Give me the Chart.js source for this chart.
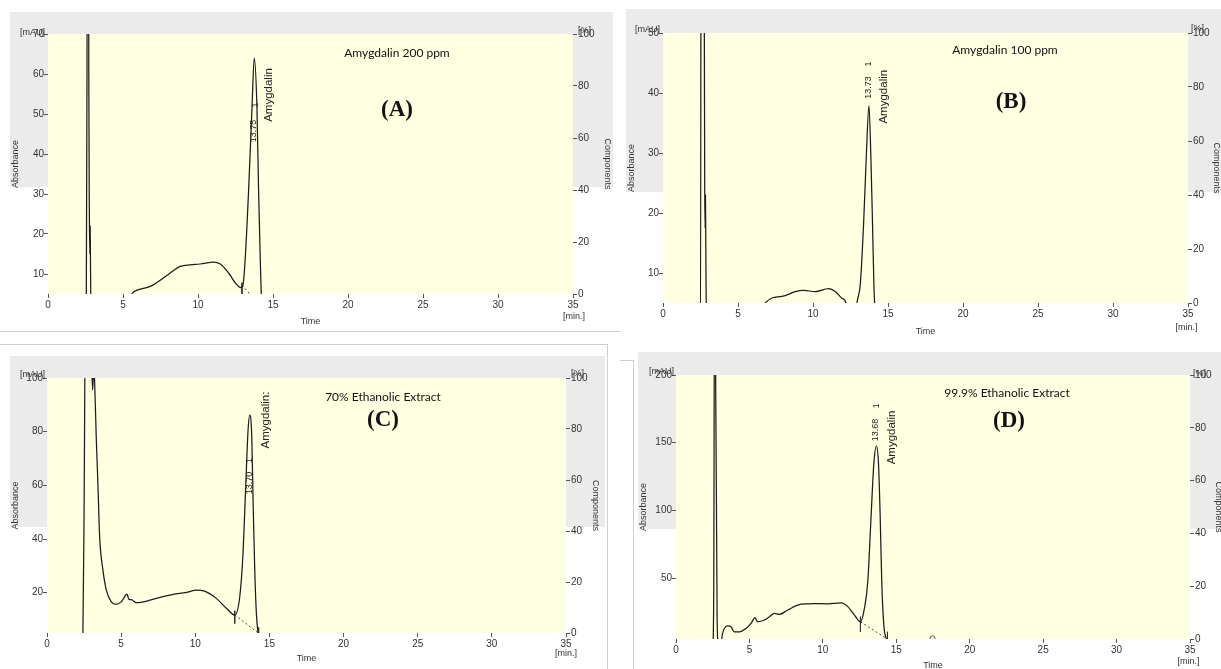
<!DOCTYPE html>
<html><head><meta charset="utf-8">
<script src="https://cdn.jsdelivr.net/npm/chart.js@4.4.1/dist/chart.umd.min.js"></script>
<style>
html,body{margin:0;padding:0;width:1221px;height:669px;overflow:hidden;background:#fff;position:relative}
.band{position:absolute;background:#ebebeb}
.rule{position:absolute;background:#cfcfcf}
canvas{position:absolute}
</style></head><body>
<div class="band" style="left:10px;top:12px;width:603px;height:175px"></div>
<div class="band" style="left:626px;top:9px;width:595px;height:183px"></div>
<div class="band" style="left:10px;top:356px;width:595px;height:171px"></div>
<div class="band" style="left:638px;top:352px;width:583px;height:177px"></div>
<div class="rule" style="left:0;top:331px;width:620px;height:1px"></div>
<div class="rule" style="left:0;top:344px;width:607px;height:1px"></div>
<div class="rule" style="left:607px;top:344px;width:1px;height:325px"></div>
<div class="rule" style="left:620px;top:360px;width:13px;height:1px"></div>
<div class="rule" style="left:633px;top:360px;width:1px;height:309px"></div>
<script>
// ---------- tick labels ----------
const timeTicks=[0,5,10,15,20,25,30,35];
const pctTicks=[0,20,40,60,80,100];
const absTicksA=[10,20,30,40,50,60,70];
const absTicksB=[10,20,30,40,50];
const absTicksC=[20,40,60,80,100];
const absTicksD=[50,100,150,200];
const absMax=[70,50,100,200];

// ---------- chromatogram traces (time [min], absorbance [mAU]) ----------
const timeA=[0,2.55,2.6,2.63,2.68,2.72,2.76,2.79,2.81,2.83,2.87,5.3,5.6,5.9,6.82,7.93,8.82,9.49,10.15,11.04,11.49,12.04,12.49,12.85,13.0,13.15,13.37,13.6,13.75,13.93,14.04,14.15,14.22,14.35,35];
const absA =[0,0,60,200,200,60,24,15,22,14,0,0,5,5.9,6.9,9.65,11.9,12.3,12.5,13.0,12.5,10.25,7.75,6.6,7.3,14,30.6,51.5,64,51.5,30.6,14,5,0,0];

const timeB=[0,2.5,2.55,2.6,2.7,2.78,2.81,2.83,2.87,2.95,6.6,6.82,7.93,8.82,9.38,10.15,11.04,11.49,11.93,12.2,12.4,12.75,12.93,13.15,13.37,13.55,13.73,13.86,13.97,14.06,14.11,14.3,35];
const absB =[0,0,100,100,100,24.7,17.5,23,8,0,0,5,6.1,6.9,7.1,6.9,7.4,6.9,5.8,5,0,0,5,8.05,18,29.2,37.9,29.2,18,8,5,0,0];

const timeC=[0,2.3,2.42,2.5,2.6,2.9,3.07,3.15,3.21,3.32,3.44,3.55,3.77,4.0,4.34,4.63,5.01,5.39,5.53,5.69,6.02,7.37,8.5,9.4,10.07,10.63,11.42,12.1,12.66,13.0,13.22,13.4,13.56,13.67,13.81,13.9,14.01,14.12,14.23,14.4,35];
const absC =[0,0,5,50,130,130,95.5,103,99,78,59.5,40.9,28.5,21,16.6,15.65,16.6,19.5,17.5,17.4,16.3,17.9,19.4,20.1,21,20.6,17.9,14.2,11.7,18.5,34.7,59.5,80.6,86.2,78,53.3,28.5,12.3,5,0,0];

const timeD=[0,2.5,2.57,2.62,2.66,2.8,2.9,3.05,3.15,3.29,3.52,3.75,3.97,4.32,4.77,5.11,5.38,5.56,6.02,6.36,6.7,7.04,7.61,8.52,9.42,10.33,11.24,11.7,12.15,12.56,12.83,13.06,13.29,13.47,13.65,13.79,13.9,14.01,14.15,14.31,14.45,35];
const absD =[0,0,40,260,260,20,0,0,8,12.8,14.7,14,10.3,10.3,12.8,16.5,20.7,17.7,19,21.4,24,23.2,26.4,30.7,31.1,31,31.6,28.9,22.7,17.7,27.7,47.5,97,134.3,147.5,134.3,97,47.5,15.3,5.4,0,0];

// ---------- integration baselines (dotted) and peak markers ----------
const baseTimeA=[12.93,14.3], baseAbsA=[7.2,1.5];
const baseTimeC=[12.66,14.25], baseAbsC=[11.7,5];
const baseTimeD=[12.56,14.38], baseAbsD=[17.7,5];
const markTimeA=[12.93,12.93], markAbsA=[7.8,4];
const markTimeC=[12.66,12.66], markAbsC=[13.3,8.5];
const markEndTimeC=[14.27,14.27], markEndAbsC=[7.2,4];
const markTimeD=[12.56,12.56], markAbsD=[21.5,10.3];
const markEndTimeD=[14.4,14.4], markEndAbsD=[10.3,4];
const smallPeakTimeD=[17.46], smallPeakAbsD=[5.5];

// ---------- annotation texts ----------
const titles=['Amygdalin 200 ppm','Amygdalin 100 ppm','70% Ethanolic Extract','99.9% Ethanolic Extract'];
const letters=['(A)','(B)','(C)','(D)'];
const peakRT=[13.75,13.73,13.70,13.68];
const peakRTLabel=['13.75','13.73','13.70','13.68'];
const peakNo=['1','1','1','1'];
const peakName=['Amygdalin','Amygdalin','Amygdalin:','Amygdalin'];

// ---------- layout (page px) ----------
const layout=[
 {box:[8,12,609,320],  plot:[48,34,573,294],  absPad:2.6, compPad:4.6, timePad:4.6, title:[397,53],  letter:[397,110], mau:[20,33],  pct:[578,31],  min:[574,317],  rt:[-1,131],  one:[1,105],  name:[14.5,95]},
 {box:[624,9,598,331], plot:[663,33,1188,303], absPad:2.1, compPad:0.6, timePad:2.6, title:[1005,50], letter:[1011,102],mau:[635,30], pct:[1191,29], min:[1186.5,328],rt:[0,87.5],  one:[0,64],   name:[15,96.7]},
 {box:[8,346,597,323], plot:[47,378,566,633],  absPad:2.4, compPad:4.6, timePad:4.6, title:[383,397], letter:[383,420], mau:[20,375], pct:[571,374], min:[566,654],  rt:[-1,483],  one:[-1,460.5],name:[16,420]},
 {box:[636,350,588,322],plot:[676,375,1190,639],absPad:2.4,compPad:0.6, timePad:0.6, title:[1007,393],letter:[1009,421],mau:[649,372], pct:[1193,374], min:[1188.6,662],rt:[-1.5,430],one:[0,405.7],name:[15,437.5]}
];

const TICKFONT={family:'"Liberation Sans", Arial, sans-serif', size:10};
const SMALLFONT={family:'"Liberation Sans", Arial, sans-serif', size:9};
const TXT='#333';
const LINE='#1c1c1c';

function pts(t,v){return t.map((x,i)=>({x:x,y:v[i]}));}

const panels=[
 {trace:pts(timeA,absA), ticks:absTicksA, extra:[
   {d:pts(baseTimeA,baseAbsA),dash:true},{d:pts(markTimeA,markAbsA)}]},
 {trace:pts(timeB,absB), ticks:absTicksB, extra:[]},
 {trace:pts(timeC,absC), ticks:absTicksC, extra:[
   {d:pts(baseTimeC,baseAbsC),dash:true},{d:pts(markTimeC,markAbsC)},{d:pts(markEndTimeC,markEndAbsC)}]},
 {trace:pts(timeD,absD), ticks:absTicksD, extra:[
   {d:pts(baseTimeD,baseAbsD),dash:true},{d:pts(markTimeD,markAbsD)},{d:pts(markEndTimeD,markEndAbsD)},
   {d:pts(smallPeakTimeD,smallPeakAbsD),circle:true}]}
];

panels.forEach((p,i)=>{
  const L=layout[i];
  const [bx,by,bw,bh]=L.box;
  const [pl,pt,pr,pb]=L.plot;
  const leftW=pl-bx, rightW=bx+bw-pr, topPad=pt-by, bottomH=by+bh-pb;
  const cv=document.createElement('canvas');
  cv.width=bw; cv.height=bh;
  cv.style.left=bx+'px'; cv.style.top=by+'px';
  cv.style.width=bw+'px'; cv.style.height=bh+'px';
  document.body.appendChild(cv);

  const datasets=[{data:p.trace,borderColor:LINE,borderWidth:1.25,pointRadius:0,cubicInterpolationMode:'monotone',yAxisID:'y'}];
  p.extra.forEach(e=>{
    if(e.circle){
      datasets.push({data:e.d,showLine:false,pointRadius:2.5,pointStyle:'circle',pointBackgroundColor:'rgba(0,0,0,0)',pointBorderColor:'#555',pointBorderWidth:1,yAxisID:'y'});
    } else {
      datasets.push({data:e.d,borderColor:e.dash?'#444':'#333',borderWidth:1,borderDash:e.dash?[2,2.5]:[],pointRadius:0,tension:0,yAxisID:'y'});
    }
  });

  const plugin={
    id:'deco'+i,
    beforeDraw(chart){
      const a=chart.chartArea, c=chart.ctx;
      c.save(); c.fillStyle='#ffffe1'; c.fillRect(a.left,a.top,a.right-a.left,a.bottom-a.top); c.restore();
    },
    afterDraw(chart){
      const c=chart.ctx;
      const X=v=>v-bx, Y=v=>v-by;
      c.save();
      c.fillStyle='#111';
      c.textAlign='center'; c.textBaseline='middle';
      c.font='12px Lato, "Liberation Sans", sans-serif';
      c.fillText(titles[i],X(L.title[0]),Y(L.title[1]));
      c.font='bold 23px "Liberation Serif", "Times New Roman", serif';
      c.fillText(letters[i],X(L.letter[0]),Y(L.letter[1]));
      c.fillStyle=TXT;
      c.font='9px "Liberation Sans", Arial, sans-serif';
      c.textAlign='left';
      c.fillText('[mAU]',X(L.mau[0]),Y(L.mau[1]));
      c.fillText('[%]',X(L.pct[0]),Y(L.pct[1]));
      c.textAlign='center';
      c.fillText('[min.]',X(L.min[0]),Y(L.min[1]));
      // peak annotations, anchored at the retention time
      const px=chart.scales.x.getPixelForValue(peakRT[i]);
      const rot=(txt,x,y,font)=>{c.save();c.translate(x,y);c.rotate(-Math.PI/2);c.font=font;c.textAlign='center';c.textBaseline='middle';c.fillText(txt,0,0);c.restore();};
      c.fillStyle='#222';
      rot(peakRTLabel[i],px+L.rt[0],Y(L.rt[1]),'9px "Liberation Sans", Arial, sans-serif');
      rot(peakNo[i],px+L.one[0],Y(L.one[1]),'9px "Liberation Sans", Arial, sans-serif');
      rot(peakName[i],px+L.name[0],Y(L.name[1]),'11.5px "Liberation Sans", Arial, sans-serif');
      c.restore();
    }
  };

  new Chart(cv,{
    type:'line',
    data:{datasets:datasets},
    options:{
      responsive:false, animation:false, devicePixelRatio:1,
      layout:{autoPadding:false,padding:{top:topPad,left:0,right:0,bottom:0}},
      plugins:{legend:{display:false},tooltip:{enabled:false}},
      scales:{
        x:{type:'linear',position:'bottom',min:0,max:35,
          afterBuildTicks:s=>{s.ticks=timeTicks.map(v=>({value:v}));},
          afterFit:s=>{s.height=bottomH;},
          ticks:{font:TICKFONT,color:TXT,padding:1,maxRotation:0,autoSkip:false},
          grid:{drawOnChartArea:false,tickLength:4,color:'#555'},
          border:{display:false},
          title:{display:true,text:'Time',font:SMALLFONT,color:TXT,padding:L.timePad}},
        y:{type:'linear',position:'left',min:5,max:absMax[i],
          afterBuildTicks:s=>{s.ticks=p.ticks.map(v=>({value:v}));},
          afterFit:s=>{s.width=leftW;},
          ticks:{font:TICKFONT,color:TXT,padding:0},
          grid:{drawOnChartArea:false,tickLength:4,color:'#555'},
          border:{display:false},
          title:{display:true,text:'Absorbance',font:SMALLFONT,color:TXT,padding:L.absPad}},
        y2:{type:'linear',position:'right',min:0,max:100,
          afterBuildTicks:s=>{s.ticks=pctTicks.map(v=>({value:v}));},
          afterFit:s=>{s.width=rightW;},
          ticks:{font:TICKFONT,color:TXT,padding:1},
          grid:{drawOnChartArea:false,tickLength:4,color:'#555'},
          border:{display:false},
          title:{display:true,text:'Components',font:SMALLFONT,color:TXT,padding:L.compPad}}
      }
    },
    plugins:[plugin]
  });
});
</script>
</body></html>
